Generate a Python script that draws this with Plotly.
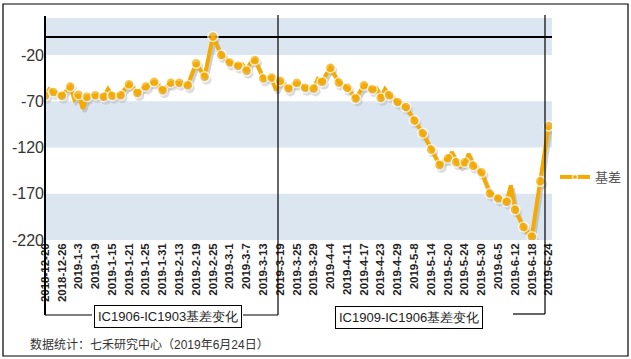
import plotly.graph_objects as go

# ---------------- data ----------------
tick_labels = ["2018-12-20", "2018-12-26", "2019-1-3", "2019-1-9", "2019-1-15", "2019-1-21",
               "2019-1-25", "2019-1-31", "2019-2-13", "2019-2-19", "2019-2-25", "2019-3-1",
               "2019-3-7", "2019-3-13", "2019-3-19", "2019-3-25", "2019-3-29", "2019-4-4",
               "2019-4-11", "2019-4-17", "2019-4-23", "2019-4-29", "2019-5-8", "2019-5-14",
               "2019-5-20", "2019-5-24", "2019-5-30", "2019-6-5", "2019-6-12", "2019-6-18",
               "2019-6-24"]
basis = [-64, -57, -60, -62, -64, -59, -54, -68, -63, -78,
         -65, -64, -63.5, -64, -65, -57, -64, -64, -63.5, -57,
         -51.5, -56, -61, -57, -54, -51, -49, -53, -58, -54,
         -50, -50, -50, -51, -52.6, -41, -29, -36, -43.6, -22,
         0, -10, -20, -24, -28, -30, -31.6, -30, -37, -28,
         -25.4, -35, -45.3, -45, -44.2, -58, -47.9, -52, -56.2, -53,
         -50.1, -53, -55.5, -56, -56.2, -46, -49, -41, -33.8, -42,
         -49.7, -53, -55.5, -61, -67.1, -60, -52.6, -55, -57, -56,
         -66.4, -57, -63.5, -67, -70.8, -74, -76.2, -83, -90.7, -97,
         -104.5, -113, -122.2, -131, -138.8, -135, -131.6, -125, -136, -140,
         -136, -127, -139.6, -143, -146.8, -158, -169.7, -172, -175.1, -177,
         -178.7, -161, -187.4, -196, -205.9, -212, -216.4, -186, -156.6, -125,
         -96.8]
marker_every = 2
label_every = 4
y_ticks = [-220, -170, -120, -70, -20]
y_tick_text = ["-220", "-170", "-120", "-70", "-20"]
band_ranges = [(-220, -170), (-120, -70), (-20, 20)]
series_name = "基差"
box_left = "IC1906-IC1903基差变化"
box_right = "IC1909-IC1906基差变化"
footer = "数据统计：七禾研究中心（2019年6月24日）"

# ---------------- layout geometry ----------------
W, H = 631, 359
ML, MR, MT, MB = 45, 79, 18, 119
PW, PH = W - ML - MR, H - MT - MB
x_idx = list(range(len(basis)))
XR = [0, 120.8]
YR = [-220, 20]


def px(xp):
    return (xp - ML) / PW


def py(yp):
    return (H - MB - yp) / PH


ORANGE = "#F4AA00"
msizes = [10 if i % marker_every == 0 else 0 for i in x_idx]

fig = go.Figure()

# shadow (drawn on slightly shifted axes)
fig.add_trace(go.Scatter(
    x=x_idx, y=basis, mode="lines+markers", xaxis="x2", yaxis="y2",
    line=dict(color="rgba(170,170,170,0.55)", width=4),
    marker=dict(size=msizes, color="rgba(170,170,170,0.55)", line=dict(width=0)),
    showlegend=False, hoverinfo="skip"))

# main series
fig.add_trace(go.Scatter(
    x=x_idx, y=basis, mode="lines+markers", xaxis="x3", yaxis="y3", name=series_name,
    line=dict(color=ORANGE, width=4),
    marker=dict(size=msizes, color=ORANGE, line=dict(color="white", width=1.5))))

dxu = 2 * (XR[1] - XR[0]) / PW
dyu = 3 * (YR[1] - YR[0]) / PH

shapes = []
for lo, hi in band_ranges:
    shapes.append(dict(type="rect", xref="paper", yref="y", x0=0, x1=1, y0=lo, y1=hi,
                       fillcolor="#DCE6F1", line=dict(width=0), layer="below"))

def seg(x0, y0, x1, y1, w=1.2):
    shapes.append(dict(type="line", xref="paper", yref="paper",
                       x0=px(x0), y0=py(y0), x1=px(x1), y1=py(y1),
                       line=dict(color="black", width=w)))

# left axis line + bracket
seg(45, 16, 45, 315, 2)
seg(45, 315, 92, 315)
seg(243, 315, 278, 315)
seg(278, 15, 278, 315)
# right bracket
seg(513, 314, 545, 314)
seg(545, 15, 545, 314)
# outer frame
shapes.append(dict(type="rect", xref="paper", yref="paper",
                   x0=px(3), x1=px(628), y0=py(356), y1=py(4),
                   line=dict(color="black", width=1.2), fillcolor="rgba(0,0,0,0)"))

annotations = [
    dict(text=box_left, xref="paper", yref="paper", x=px(167.5), y=py(316),
         xanchor="center", yanchor="middle",
         showarrow=False, font=dict(size=13, color="#222", family="Liberation Sans, Arial"),
         bordercolor="black", borderwidth=1, borderpad=3, bgcolor="white"),
    dict(text=box_right, xref="paper", yref="paper", x=px(408.5), y=py(317),
         xanchor="center", yanchor="middle",
         showarrow=False, font=dict(size=13, color="#222", family="Liberation Sans, Arial"),
         bordercolor="black", borderwidth=1, borderpad=3, bgcolor="white"),
    dict(text=footer, xref="paper", yref="paper", x=px(28), y=py(344),
         xanchor="left", yanchor="middle", showarrow=False,
         font=dict(size=12, color="#333", family="Liberation Sans, Noto Sans CJK SC")),
]

fig.update_layout(
    width=W, height=H,
    margin=dict(l=ML, r=MR, t=MT, b=MB, autoexpand=False),
    paper_bgcolor="white", plot_bgcolor="white",
    font=dict(family="Liberation Sans, Arial, Noto Sans CJK SC", color="#222"),
    xaxis=dict(range=XR, showgrid=False, zeroline=False, showline=False,
               tickmode="array", tickvals=x_idx[::label_every], ticktext=tick_labels,
               tickangle=-90, ticks="", automargin=False,
               tickfont=dict(size=11.5, color="#222", weight="bold")),
    yaxis=dict(range=YR, showgrid=False, zeroline=True, zerolinecolor="black",
               zerolinewidth=1.5, showline=False, tickmode="array", automargin=False,
               tickvals=y_ticks, ticktext=y_tick_text, ticks="",
               tickfont=dict(size=16, color="#333")),
    xaxis2=dict(range=[XR[0] - dxu, XR[1] - dxu], overlaying="x", visible=False),
    yaxis2=dict(range=[YR[0] + dyu, YR[1] + dyu], overlaying="y", visible=False),
    xaxis3=dict(range=XR, overlaying="x", visible=False),
    yaxis3=dict(range=YR, overlaying="y", visible=False),
    legend=dict(x=px(555), y=py(177), xanchor="left", yanchor="middle", itemwidth=30,
                font=dict(size=13, color="#555"), bgcolor="rgba(0,0,0,0)"),
    shapes=shapes, annotations=annotations, showlegend=True,
)

fig.write_html("out.html", config={"displayModeBar": False},
               post_script="document.body.style.margin='0';")
